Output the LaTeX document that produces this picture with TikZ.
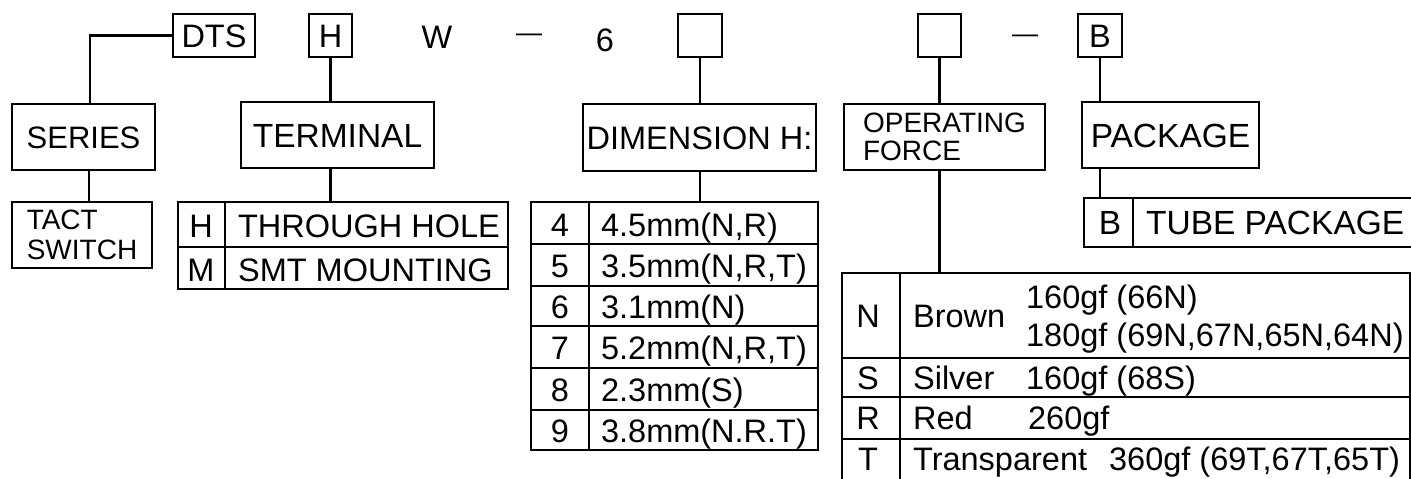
\documentclass[tikz,border=0pt]{standalone}
\usepackage{fontspec}
\setmainfont{Liberation Sans}
\begin{document}
\begin{tikzpicture}[x=1pt,y=-1pt, line width=2.2pt,
  box/.style={draw, line width=2.2pt, inner sep=0pt, rectangle},
  ft/.style={font=\fontsize{32.5}{34}\selectfont, inner sep=0pt, text height=23.3pt, text depth=0pt},
  fb/.style={font=\fontsize{33.5}{36}\selectfont, inner sep=0pt, text height=24pt, text depth=0pt},
  fs/.style={font=\fontsize{31}{33}\selectfont, inner sep=0pt, text height=22.2pt, text depth=0pt},
  dsh/.style={font=\fontsize{26}{28}\selectfont, inner sep=0pt, anchor=base},
  cl/.style={ft, anchor=west},
  cc/.style={ft, anchor=center},
  grid/.style={line width=2.2pt}
]
\useasboundingbox (0,0) rectangle (1411,479);
\fill[white] (0,0) rectangle (1411,479);

% top row
\node[box,ft,minimum width=82pt,minimum height=43pt] (dts) at (214,35.5) {DTS};
\node[box,ft,minimum width=43pt,minimum height=43pt] (hbox) at (330.5,35.5) {H};
\node[ft] (w) at (437,37) {W};
\node[dsh] (dash1) at (529,41) {—};
\node[ft] (six) at (605,39.5) {6};
\node[box,minimum width=44pt,minimum height=43pt] (e1) at (700,35.5) {};
\node[box,minimum width=43pt,minimum height=43pt] (e2) at (939.5,35.5) {};
\node[dsh] (dash2) at (1025,42) {—};
\node[box,ft,minimum width=44pt,minimum height=43pt] (bbox) at (1100,35.5) {B};

% category boxes
\node[box,fs,minimum width=143pt,minimum height=66pt] (series) at (83.5,137) {SERIES};
\node[box,fb,minimum width=193pt,minimum height=66pt] (term) at (337.5,135) {TERMINAL};
\node[box,ft,minimum width=233pt,minimum height=67pt] (dim) at (699.5,137.5) {DIMENSION H:};
\node[box,font=\fontsize{28}{27.5}\selectfont,align=left,minimum width=201pt,minimum height=66pt] (op) at (944.5,137) {OPERATING\\FORCE};
\node[box,fb,minimum width=177pt,minimum height=66pt] (pkg) at (1170.5,135) {PACKAGE};

% series value
\node[box,font=\fontsize{28}{30}\selectfont,align=left,minimum width=140pt,minimum height=66pt] (tact) at (82,235) {TACT\\SWITCH};

% terminal table
\node[box,minimum width=330pt,minimum height=87pt] (ttab) at (343,245.5) {};
\draw[grid] (178,247) -- (508,247);
\draw[grid] (225,202) -- (225,289);
\node[cc] (th) at (201,226) {H};
\node[cl] (tht) at (237,226) {THROUGH HOLE};
\node[cc] (tm) at (201,270) {M};
\node[cl] (tmt) at (237,270) {SMT MOUNTING};

% dimension table
\node[box,minimum width=287pt,minimum height=248pt] (dtab) at (674.5,326) {};
\draw[grid] (589,202) -- (589,450);
\foreach \yy in {244,286,326,368,410} \draw[grid] (531,\yy) -- (818,\yy);
\node[cc] (d4) at (560,225) {4};
\node[cl] (d4t) at (600,225) {4.5mm(N,R)};
\node[cc] (d5) at (560,266) {5};
\node[cl] (d5t) at (600,266) {3.5mm(N,R,T)};
\node[cc] (d6) at (560,307) {6};
\node[cl] (d6t) at (600,307) {3.1mm(N)};
\node[cc] (d7) at (560,348) {7};
\node[cl] (d7t) at (600,348) {5.2mm(N,R,T)};
\node[cc] (d8) at (560,390) {8};
\node[cl] (d8t) at (600,390) {2.3mm(S)};
\node[cc] (d9) at (560,431) {9};
\node[cl] (d9t) at (600,431) {3.8mm(N.R.T)};

% package table
\node[box,minimum width=329pt,minimum height=49pt] (tube) at (1248.5,222.5) {};
\draw[grid] (1133,198) -- (1133,247);
\node[fb,anchor=center] (tb) at (1110,222) {B};
\node[fb,anchor=west] (tbt) at (1145,222) {TUBE PACKAGE};

% operating force table
\node[box,minimum width=568pt,minimum height=208pt] (optab) at (1126,377) {};
\draw[grid] (900,273) -- (900,481);
\foreach \yy in {358,397,439} \draw[grid] (842,\yy) -- (1410,\yy);
\node[cc] (on) at (868,316) {N};
\node[cl] (onc) at (912,316) {Brown};
\node[cl] (onv1) at (1025,297) {160gf (66N)};
\node[cl] (onv2) at (1025,335) {180gf (69N,67N,65N,64N)};
\node[cc] (os) at (868,378) {S};
\node[cl] (osc) at (912,378) {Silver};
\node[cl] (osv) at (1025,378) {160gf (68S)};
\node[cc] (or) at (868,418) {R};
\node[cl] (orc) at (912,418) {Red};
\node[cl] (orv) at (1027,418) {260gf};
\node[cc] (ot) at (868,459) {T};
\node[cl] (otc) at (912,459) {Transparent};
\node[cl] (otv) at (1108,459) {360gf (69T,67T,65T)};

% connectors
\draw (dts.west) -| ([xshift=6.5pt]series.north);
\draw ([xshift=5.5pt]series.south) -- ([xshift=5.5pt]series.south |- tact.north);
\draw (hbox.south) -- (hbox.south |- term.north);
\draw (hbox.south |- term.south) -- (hbox.south |- ttab.north);
\draw (e1.south) -- (e1.south |- dim.north);
\draw (e1.south |- dim.south) -- (e1.south |- dtab.north);
\draw (e2.south) -- (e2.south |- op.north);
\draw (e2.south |- op.south) -- (e2.south |- optab.north);
\draw (bbox.south) -- (bbox.south |- pkg.north);
\draw (bbox.south |- pkg.south) -- (bbox.south |- tube.north);
\end{tikzpicture}
\end{document}
